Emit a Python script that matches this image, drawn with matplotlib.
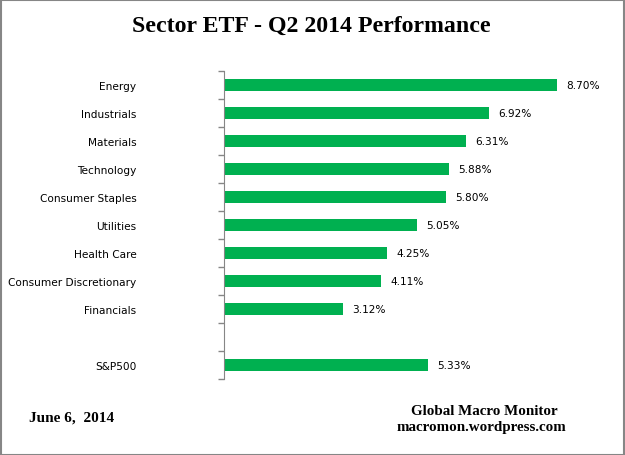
import numpy as np
import matplotlib.pyplot as plt
from matplotlib.patches import Rectangle

# datos
sectors = ["Energy", "Industrials", "Materials", "Technology", "Consumer Staples",
           "Utilities", "Health Care", "Consumer Discretionary", "Financials", "", "S&P500"]
perf = [8.70, 6.92, 6.31, 5.88, 5.80, 5.05, 4.25, 4.11, 3.12, None, 5.33]

fig = plt.figure(figsize=(6.25, 4.56), dpi=100)
W, H = 625, 456
ax = fig.add_axes([224 / W, 1 - 380 / H, (607 - 224) / W, 308 / H])

pos = np.arange(len(sectors))
for p, v in zip(pos, perf):
    if v is None:
        continue
    ax.barh(p, v, height=0.4, color="#00B050")
    ax.text(v + 0.24, p, "%.2f%%" % v, va="center", ha="left", fontsize=7.6,
            family="DejaVu Sans")

ax.set_xlim(0, 10)
ax.set_ylim(len(sectors) - 0.5, -0.5)
ax.set_yticks(pos)
ax.set_yticklabels(sectors, fontsize=7.6, family="DejaVu Sans")
ax.set_yticks(np.arange(-0.5, len(sectors), 1), minor=True)
ax.tick_params(axis="y", which="major", length=0, pad=63)
ax.tick_params(axis="y", which="minor", length=4, color="#868686", width=1)
ax.set_xticks([])
for s in ["top", "right", "bottom"]:
    ax.spines[s].set_visible(False)
ax.spines["left"].set_color("#868686")

fig.text(311 / W, 1 - 32 / H, "Sector ETF - Q2 2014 Performance", ha="center", va="baseline",
         fontsize=17.2, fontweight="bold", family="Liberation Serif")
fig.text(29 / W, 1 - 422 / H, "June 6,  2014", ha="left", va="baseline",
         fontsize=11, fontweight="bold", family="Liberation Serif")
fig.text(484 / W, 1 - 415 / H, "Global Macro Monitor", ha="center", va="baseline",
         fontsize=10.8, fontweight="bold", family="Liberation Serif")
fig.text(481 / W, 1 - 431 / H, "macromon.wordpress.com", ha="center", va="baseline",
         fontsize=10.8, fontweight="bold", family="Liberation Serif")

fig.patches.append(Rectangle((0.5 / W, 0.5 / H), 1 - 1.5 / W, 1 - 1.5 / H,
                             transform=fig.transFigure, fill=False,
                             edgecolor="#868686", linewidth=1.5))

fig.savefig("out.png", dpi=100)
